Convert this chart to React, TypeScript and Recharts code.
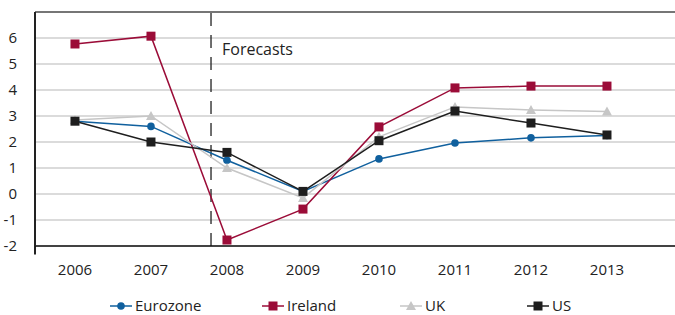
import { LineChart, Line, XAxis, YAxis, CartesianGrid, ReferenceLine, Legend } from "recharts";

const years = [2006, 2007, 2008, 2009, 2010, 2011, 2012, 2013];
const eurozone = [2.8, 2.6, 1.3, 0.1, 1.35, 1.96, 2.16, 2.25];
const ireland = [5.77, 6.07, -1.77, -0.58, 2.58, 4.08, 4.15, 4.15];
const uk = [2.85, 3.0, 1.0, -0.15, 2.2, 3.35, 3.23, 3.17];
const us = [2.8, 2.0, 1.6, 0.1, 2.05, 3.19, 2.73, 2.27];
const yTicks = [-2, -1, 0, 1, 2, 3, 4, 5, 6];

const data = years.map((y, i) => ({
  year: y,
  eurozone: eurozone[i],
  ireland: ireland[i],
  uk: uk[i],
  us: us[i],
}));

const FONT = "'Open Sans', sans-serif";

const series = [
  { key: "eurozone", name: "Eurozone", color: "#10609e", shape: "circle" },
  { key: "ireland", name: "Ireland", color: "#9b0c38", shape: "square" },
  { key: "uk", name: "UK", color: "#c6c6c6", shape: "triangle" },
  { key: "us", name: "US", color: "#1e1e1e", shape: "square" },
];

function Marker({ cx, cy, shape, color }: any) {
  if (cx == null || cy == null) return null;
  if (shape === "circle") return <circle cx={cx} cy={cy} r={3.8} fill={color} />;
  if (shape === "triangle")
    return <polygon points={`${cx},${cy - 5} ${cx + 5},${cy + 4} ${cx - 5},${cy + 4}`} fill={color} />;
  return <rect x={cx - 4.5} y={cy - 4.5} width={9} height={9} fill={color} />;
}

const legendX = [110, 262, 400, 527];

function LegendContent() {
  return (
    <svg width={675} height={24} style={{ display: "block" }}>
      {series.map((s, i) => (
        <g key={s.key}>
          <line x1={legendX[i]} x2={legendX[i] + 22} y1={11} y2={11} stroke={s.color} strokeWidth={1.5} />
          <Marker cx={legendX[i] + 11} cy={11} shape={s.shape} color={s.color} />
          <text x={legendX[i] + 25} y={16} fontSize={15} fontFamily={FONT} fill="#222">
            {s.name}
          </text>
        </g>
      ))}
    </svg>
  );
}

export default function App() {
  return (
    <div style={{ position: "absolute", left: 0, top: 0, background: "#fff" }}>
      <LineChart width={675} height={315} data={data} margin={{ top: 12, right: 0, bottom: 0, left: 0 }}>
        <CartesianGrid horizontal vertical={false} stroke="#cfcfcf" strokeWidth={1.5} />
        <XAxis
          dataKey="year"
          type="number"
          domain={[2005.474, 2013.895]}
          ticks={years}
          tickLine={false}
          axisLine={{ stroke: "#111", strokeWidth: 1.5 }}
          tick={{ fontSize: 15, fill: "#222", fontFamily: FONT }}
          tickMargin={12}
          height={45}
        />
        <YAxis
          domain={[-2, 7]}
          ticks={yTicks}
          tickLine={false}
          axisLine={{ stroke: "#222", strokeWidth: 2 }}
          tick={{ fontSize: 15, fill: "#222", fontFamily: FONT }}
          tickMargin={12}
          width={35}
          interval={0}
        />
        <ReferenceLine y={7} stroke="#555" strokeWidth={1.5} />
        <ReferenceLine
          segment={[
            { x: 2005.474, y: -2 },
            { x: 2005.474, y: -2.33 },
          ]}
          stroke="#222"
          strokeWidth={2}
          ifOverflow="visible"
        />
        <ReferenceLine
          x={2007.79}
          stroke="#222"
          strokeWidth={1.3}
          strokeDasharray="13 9"
          label={(p: any) => (
            <text x={p.viewBox.x + 11} y={p.viewBox.y + 43} fontSize={16} fontFamily={FONT} fill="#222">
              Forecasts
            </text>
          )}
        />
        {series.map((s) => (
          <Line
            key={s.key}
            dataKey={s.key}
            name={s.name}
            stroke={s.color}
            strokeWidth={1.5}
            isAnimationActive={false}
            dot={(p: any) => <Marker key={`${s.key}-${p.index}`} cx={p.cx} cy={p.cy} shape={s.shape} color={s.color} />}
            activeDot={false}
          />
        ))}
        <Legend
          verticalAlign="bottom"
          height={24}
          wrapperStyle={{ bottom: -4 }}
          content={() => <LegendContent />}
        />
      </LineChart>
    </div>
  );
}
